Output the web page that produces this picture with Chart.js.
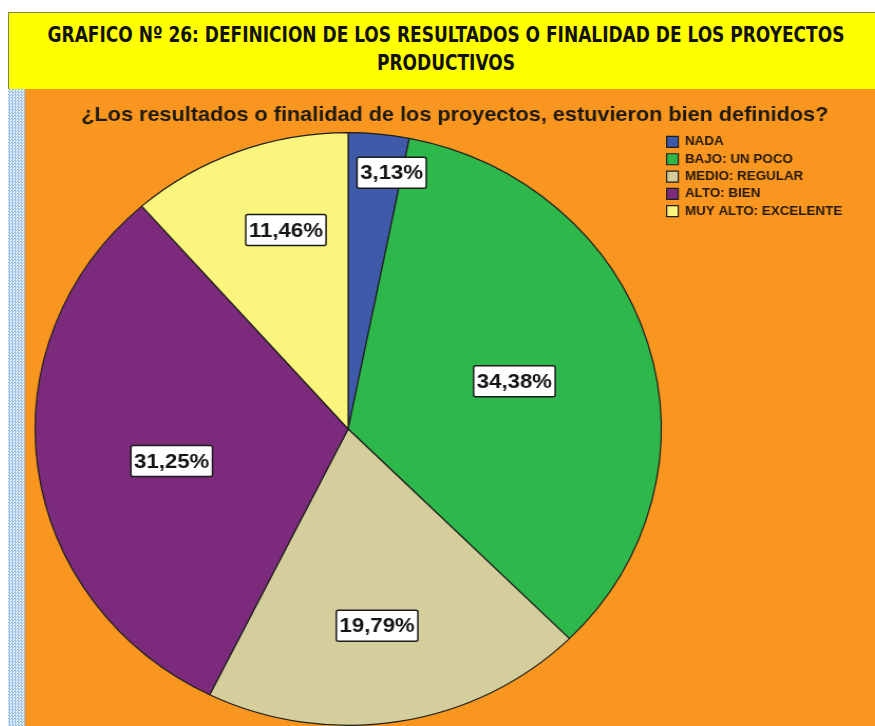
<!DOCTYPE html>
<html>
<head>
<meta charset="utf-8">
<script src="https://cdn.jsdelivr.net/npm/chart.js@4"></script>
<style>
html, body { margin: 0; padding: 0; background: #fff; width: 875px; height: 726px; overflow: hidden; }
#head { position: absolute; left: 8px; top: 12px; width: 866px; height: 76px; background: #ffff00; border: 1px solid #7d8a4e; }
#head span { position: absolute; left: 437px; height: 28px; line-height: 28px; white-space: nowrap;
  font: bold 21px "Liberation Sans Narrow", "DejaVu Sans Condensed", Lato, sans-serif; color: #111; transform-origin: 50% 50%; }
#strip { position: absolute; left: 8px; top: 89px; width: 17px; height: 637px;
  background: repeating-conic-gradient(#9fc3e6 0 25%, #e4eef8 0 50%) 0 0 / 3px 3px; }
#panel { position: absolute; left: 25px; top: 89px; width: 850px; height: 637px; background: #f8961f; }
#wrap { position: absolute; left: 25px; top: 89px; width: 805px; height: 638px; transform: scaleX(1.056); transform-origin: 0 0; }
</style>
</head>
<body>
<div id="head">
  <span id="l1" style="top:10px">GRAFICO Nº 26: DEFINICION DE LOS RESULTADOS O FINALIDAD DE LOS PROYECTOS</span>
  <span id="l2" style="top:38px">PRODUCTIVOS</span>
</div>
<div id="strip"></div>
<div id="panel"></div>
<div id="wrap"><canvas id="graph" width="805" height="638"></canvas></div>
<script>
const categories = ["NADA", "BAJO: UN POCO", "MEDIO: REGULAR", "ALTO: BIEN", "MUY ALTO: EXCELENTE"];
const percentages = [3.13, 34.38, 19.79, 31.25, 11.46];
const colors = ["#3e5aa8", "#2eb84b", "#d3ce9b", "#7b2a7c", "#faf57c"];
// where each % box sits: share of the slice angle, share of the radius
const labelTurn = [0.81, 0.5, 0.52, 0.47, 0.6];
const labelRadius = [0.876, 0.555, 0.67, 0.574, 0.70];

// squeeze the header lines to the width of the original
const l1 = document.getElementById("l1"), l2 = document.getElementById("l2");
const k = 797 / l1.offsetWidth;
l1.style.transform = "translateX(-50%) scaleX(" + k + ")";
l2.style.transform = "translateX(-50%) scaleX(" + k + ")";

const legendWidth = {
  id: "legendWidth",
  beforeInit(chart) {
    const fit = chart.legend.fit;
    chart.legend.fit = function () {
      fit.bind(chart.legend)();
      this.width = 202;
    };
  }
};

const pctLabels = {
  id: "pctLabels",
  afterDatasetsDraw(chart) {
    const ctx = chart.ctx;
    const meta = chart.getDatasetMeta(0);
    ctx.save();
    ctx.font = 'bold 21px "Liberation Sans", Arial, sans-serif';
    ctx.textAlign = "center";
    ctx.textBaseline = "middle";
    meta.data.forEach((arc, i) => {
      const p = arc.getProps(["x", "y", "startAngle", "endAngle", "outerRadius"], true);
      const a = p.startAngle + (p.endAngle - p.startAngle) * labelTurn[i];
      const r = p.outerRadius * labelRadius[i];
      const x = p.x + Math.cos(a) * r;
      const y = p.y + Math.sin(a) * r;
      const txt = percentages[i].toFixed(2).replace(".", ",") + "%";
      const w = ctx.measureText(txt).width + 6;
      const h = 31;
      ctx.fillStyle = "#fff";
      ctx.strokeStyle = "#1b1b1b";
      ctx.lineWidth = 1.5;
      ctx.beginPath();
      ctx.roundRect(x - w / 2, y - h / 2, w, h, 2);
      ctx.fill();
      ctx.stroke();
      ctx.fillStyle = "#151515";
      ctx.fillText(txt, x, y + 1);
    });
    ctx.restore();
  }
};

var graph = new Chart("graph", {
  type: "pie",
  data: {
    labels: categories,
    datasets: [{
      data: percentages,
      backgroundColor: colors,
      borderColor: "#1e1e1e",
      borderWidth: 1.2
    }]
  },
  options: {
    responsive: false,
    animation: false,
    layout: { padding: { left: 9, right: 0, top: 0, bottom: 0 } },
    plugins: {
      title: {
        display: true,
        text: "¿Los resultados o finalidad de los proyectos, estuvieron bien definidos?",
        color: "#1f1a10",
        font: { family: '"Liberation Sans", Arial, sans-serif', size: 20.5, weight: "bold" },
        padding: { top: 14, bottom: 3.4 }
      },
      legend: {
        position: "right",
        align: "start",
        fullSize: false,
        labels: {
          boxWidth: 11,
          boxHeight: 11,
          padding: 4.6,
          color: "#24190b",
          font: { family: '"Liberation Sans", Arial, sans-serif', size: 12.7, weight: "bold" }
        }
      },
      tooltip: { enabled: false }
    }
  },
  plugins: [legendWidth, pctLabels]
});
</script>
</body>
</html>
